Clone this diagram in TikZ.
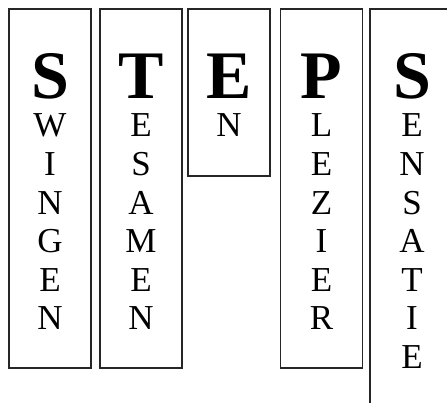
\documentclass[tikz,border=0pt]{standalone}
\usepackage{fontspec}
\setmainfont{Liberation Serif}
\usepackage{tikz}
\usetikzlibrary{positioning}
\tikzset{
  wordbox/.style={draw=black!85,line width=1.2pt,minimum width=82pt,inner sep=0pt},
  initial/.style={anchor=base,inner sep=0pt,text depth=0pt,font=\fontsize{68}{68}\selectfont\bfseries},
  letter/.style={anchor=base,inner sep=0pt,text height=23pt,text depth=0pt,font=\fontsize{35}{35}\selectfont}
}
\begin{document}
\begin{tikzpicture}[x=1pt,y=-1pt]
\useasboundingbox (0,0) rectangle (447,403);
\node[wordbox,minimum height=359pt] (swingen) at (50,188.5) {};
\node[wordbox,minimum height=359pt] (tesamen) at (141,188.5) {};
\node[wordbox,minimum height=167pt] (en) at (229,92.5) {};
\node[wordbox,minimum height=359pt] (plezier) at (321.5,188.5) {};
\draw[draw=black!85,line width=1.2pt] (447,9) -| (370,403);
\node[initial] (sS) at (50,99) {S};
\node[initial] (tT) at (141,99) {T};
\node[initial] (eE) at (229,99) {E};
\node[initial] (pP) at (321.5,99) {P};
\node[initial] (sS2) at (412,99) {S};
\foreach \ch [count=\i from 0] in {W,I,N,G,E,N}{\node[letter] (sw\i) at (50,137+38.6*\i) {\ch};}
\foreach \ch [count=\i from 0] in {E,S,A,M,E,N}{\node[letter] (te\i) at (141,137+38.6*\i) {\ch};}
\node[letter] (en0) at (229,137) {N};
\foreach \ch [count=\i from 0] in {L,E,Z,I,E,R}{\node[letter] (pl\i) at (321.5,137+38.6*\i) {\ch};}
\foreach \ch [count=\i from 0] in {E,N,S,A,T,I,E}{\node[letter] (se\i) at (412,137+38.6*\i) {\ch};}
\end{tikzpicture}
\end{document}
